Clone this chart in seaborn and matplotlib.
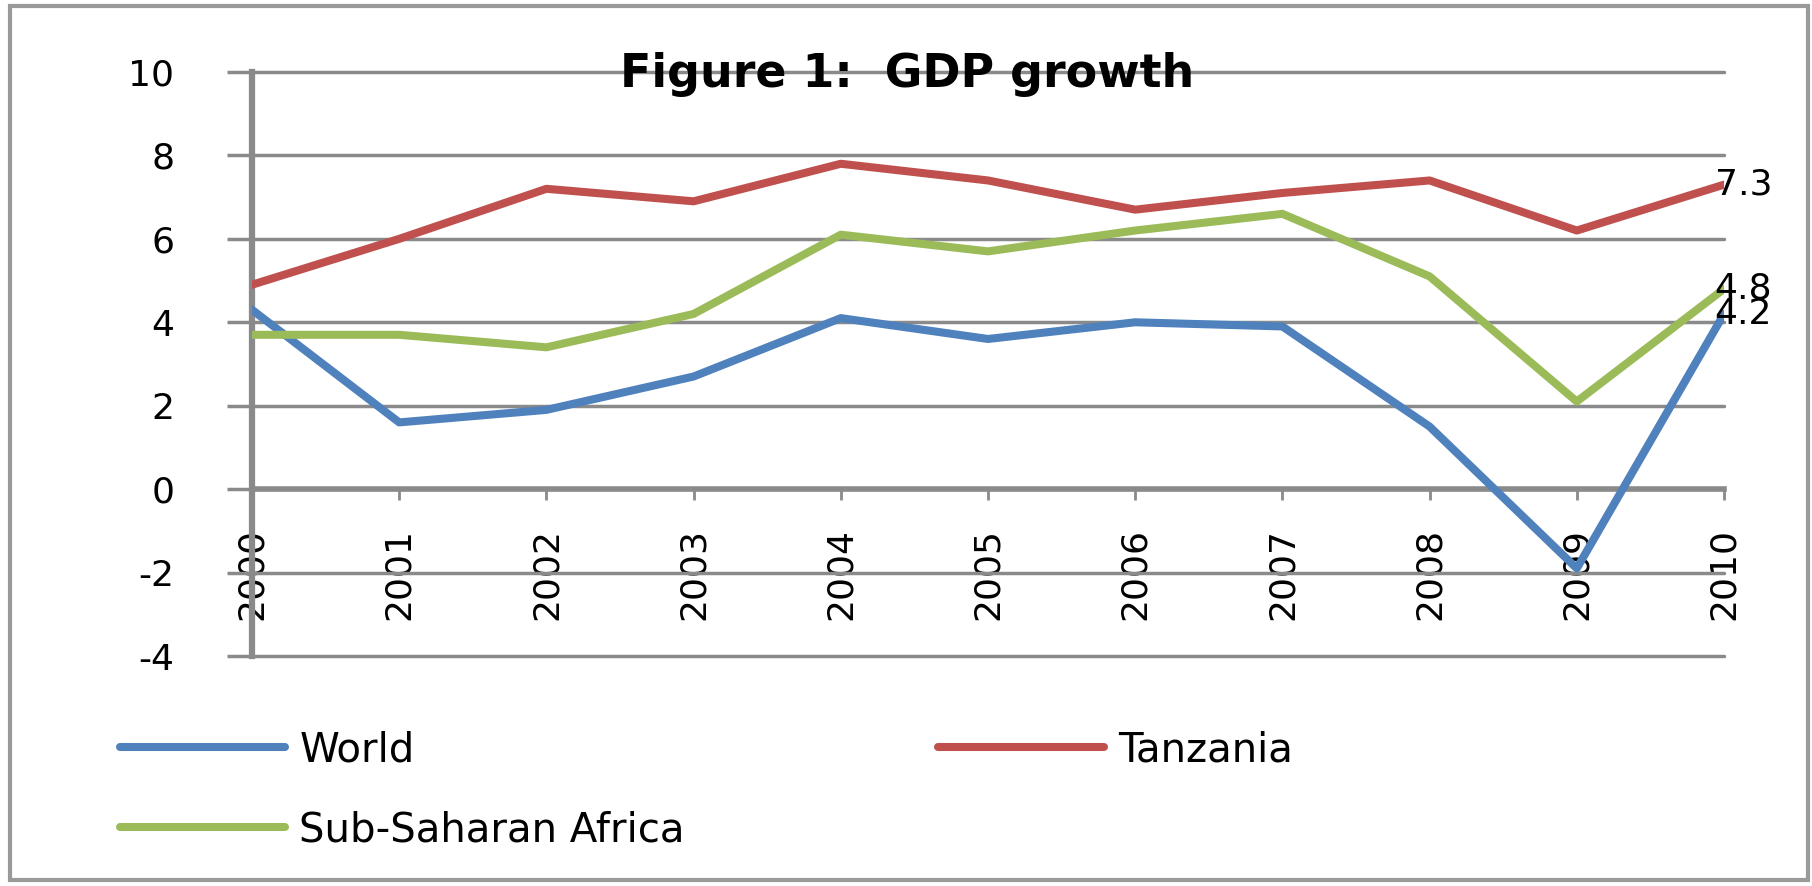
import matplotlib
matplotlib.use("Agg")
import matplotlib.pyplot as plt
import pandas as pd
import numpy as np
import seaborn as sns
from matplotlib.patches import Rectangle

### Data
years = [2000, 2001, 2002, 2003, 2004, 2005, 2006, 2007, 2008, 2009, 2010]
world = [4.3, 1.6, 1.9, 2.7, 4.1, 3.6, 4.0, 3.9, 1.5, -1.9, 4.2]
tanzania = [4.9, 6.0, 7.2, 6.9, 7.8, 7.4, 6.7, 7.1, 7.4, 6.2, 7.3]
ssa = [3.7, 3.7, 3.4, 4.2, 6.1, 5.7, 6.2, 6.6, 5.1, 2.1, 4.8]
series_names = ["World", "Tanzania", "Sub-Saharan Africa"]
colors = ["#4F81BD", "#C0504D", "#9BBB59"]
y_ticks = [-4, -2, 0, 2, 4, 6, 8, 10]

df = pd.DataFrame({
    "Year": years * 3,
    "Growth": world + tanzania + ssa,
    "Series": [series_names[0]] * len(years) + [series_names[1]] * len(years)
              + [series_names[2]] * len(years),
})

sns.set_style("white")
plt.rcParams["font.family"] = ["DejaVu Sans"]
plt.rcParams["text.color"] = "black"

grid_col = "#8a8a8a"
W, H = 1812, 886
fig = plt.figure(figsize=(W / 100, H / 100), dpi=100)
ax = fig.add_axes([252 / W, 1 - 656 / H, (1724 - 252) / W, (656 - 72) / H])

sns.lineplot(data=df, x="Year", y="Growth", hue="Series", hue_order=series_names,
             palette=colors, lw=5.8, ax=ax, legend=False,
             solid_joinstyle="round", solid_capstyle="round", zorder=5)

ax.set_xlim(2000, 2010)
ax.set_ylim(-4, 10)
ax.set_yticks(y_ticks)
ax.set_yticklabels([str(v) for v in y_ticks])
ax.set_xticks(years)
ax.set_xticklabels([str(y) for y in years])
ax.set_xlabel("")
ax.set_ylabel("")

ax.yaxis.grid(True, color=grid_col, lw=2.5)
for gl in ax.get_ygridlines():
    gl.set_clip_on(False)
ax.xaxis.grid(False)
ax.set_axisbelow(True)
for s in ["top", "right"]:
    ax.spines[s].set_visible(False)
ax.spines["bottom"].set_position(("data", 0))
ax.spines["bottom"].set_color(grid_col)
ax.spines["bottom"].set_linewidth(4)
ax.spines["left"].set_color(grid_col)
ax.spines["left"].set_linewidth(4.5)
ax.spines["left"].set_zorder(3)

ax.tick_params(axis="y", direction="out", length=18, width=2.5, color=grid_col,
               pad=38, labelsize=26, labelcolor="black", left=True)
ax.tick_params(axis="x", direction="out", length=8, width=2, color=grid_col,
               pad=20, labelsize=26, labelcolor="black", bottom=True,
               labelrotation=90)
for lab in ax.get_xticklabels():
    lab.set_zorder(6)

# end-of-line value labels (4.8 and 4.2 overlap, as in the original)
for vals in [tanzania, ssa, world]:
    ax.annotate(f"{vals[-1]:.1f}", xy=(years[-1], vals[-1]), xytext=(14, 0),
                textcoords="offset points", ha="center", va="center",
                fontsize=26, color="black", zorder=7, annotation_clip=False)

fig.text(907 / W, 1 - 87 / H, "Figure 1:  GDP growth", ha="center",
         va="baseline", fontsize=33, fontweight="bold", color="black")

# legend: row 1 World / Tanzania, row 2 Sub-Saharan Africa
handles = [plt.Line2D([], [], color=c, lw=5.8) for c in colors]
order = [0, 2, 1]
leg = fig.legend([handles[i] for i in order], [series_names[i] for i in order],
                 ncol=2, loc="upper left", bbox_to_anchor=(120 / W, 1 - 730 / H),
                 frameon=False, fontsize=29, handlelength=4.1, handletextpad=0.35,
                 columnspacing=6.3, labelspacing=1.0, borderpad=0, borderaxespad=0)
for t in leg.get_texts():
    t.set_color("black")

# chart border
fig.patches.append(Rectangle((10 / W, 6 / H), (1808 - 10) / W, (880 - 6) / H,
                             transform=fig.transFigure, fill=False,
                             ec="#9a9a9a", lw=3))

plt.savefig("out.png", dpi=100)
